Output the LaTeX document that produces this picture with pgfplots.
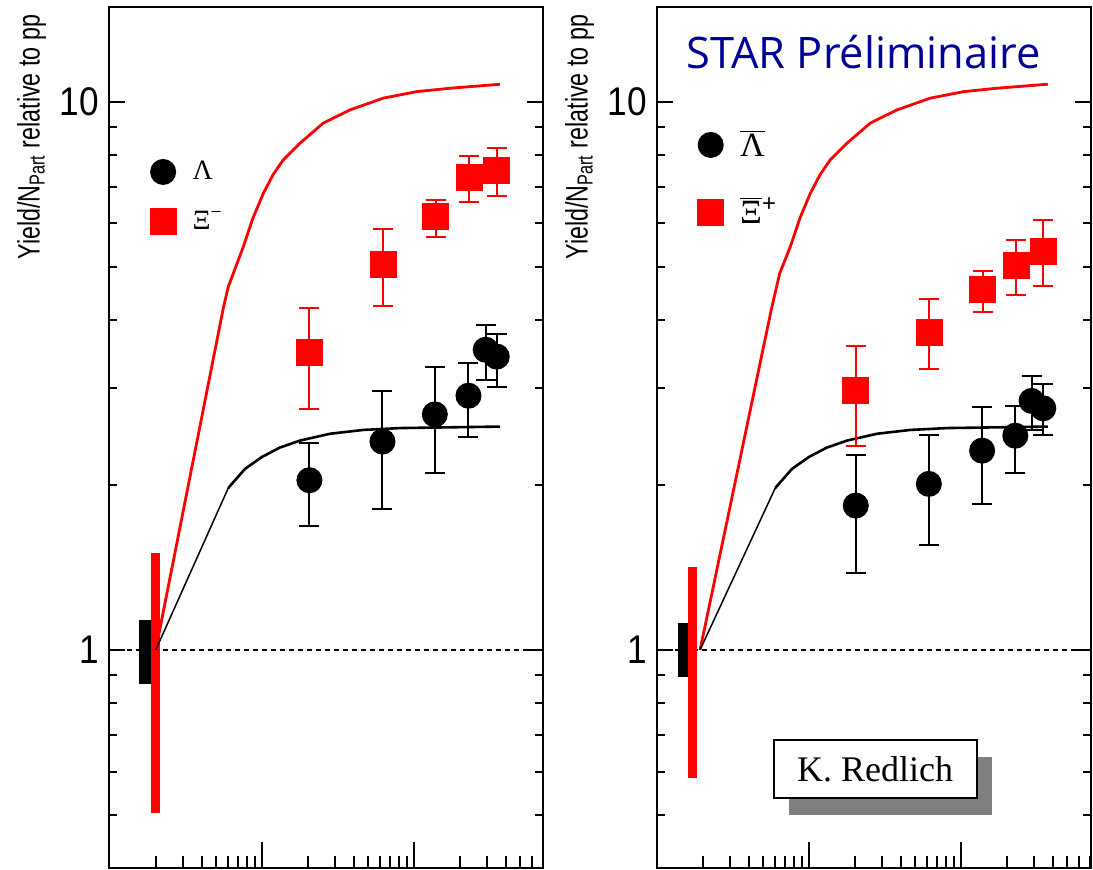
\documentclass[border=0pt]{standalone}
\usepackage{pgfplots}
\pgfplotsset{compat=1.18}
\usepackage{fontspec}
\setmainfont{Liberation Serif}
\newfontfamily\arial{Liberation Sans}
\newfontfamily\arialn[FakeStretch=0.88]{Liberation Sans}
\newfontfamily\arialnn[FakeStretch=0.75]{Liberation Sans}
\newfontfamily\comic{Open Sans}
\usetikzlibrary{shadows}
\definecolor{starblue}{RGB}{0,0,150}
\definecolor{shadowgray}{RGB}{128,128,128}

\pgfplotsset{
  mypanel/.style={
    scale only axis, width=217pt, height=430.5pt,
    ymin=0.4, ymax=14.9,
    xtick=\empty,
    ytick={1,10}, yticklabels={1,10},
    minor ytick={0.4,0.5,0.6,0.7,0.8,0.9,2,3,4,5,6,7,8,9},
    major tick length=8pt, minor tick length=4pt,
    tick style={line width=1pt, black},
    axis line style={line width=1pt},
    yticklabel style={font=\arialn\fontsize{20}{22}\selectfont, xshift=-1.5pt},
    ylabel={\arialnn\fontsize{15.5}{17}\selectfont Yield/N\textsubscript{Part} relative to pp},
    ylabel style={at={(axis description cs:-0.129,0.999)}, anchor=south east},
    clip=false,
    legend cell align=left,
  },
  mytickaxis/.style={
    scale only axis, width=217pt, height=430.5pt,
    ymin=0.4, ymax=14.9,
    ytick=\empty,
    xtick={10,100},
    minor xtick={2,3,4,5,6,7,8,9,20,30,40,50,60,70,80,90,200,300,400,500,600,700},
    xticklabels={},
    xtick pos=left,
    major tick length=13pt, minor tick length=6pt,
    tick style={line width=1pt, black},
    axis line style={line width=1pt},
  },
  lam/.style={only marks, mark=*, mark size=6pt, black, line width=1pt,
    error bars/y dir=both, error bars/y explicit,
    error bars/error mark=-,
    error bars/error mark options={rotate=90, mark size=5pt, line width=1pt},
    error bars/error bar style={line width=1pt}},
  xi/.style={only marks, mark=square*, mark size=6.25pt, red, line width=1pt,
    error bars/y dir=both, error bars/y explicit,
    error bars/error mark=-,
    error bars/error mark options={rotate=90, mark size=5pt, line width=1pt},
    error bars/error bar style={line width=1pt}},
}

\begin{document}
\begin{tikzpicture}
\useasboundingbox (0,0) rectangle (546.5pt,434.5pt);

% ---------------- left panel ----------------
\begin{loglogaxis}[mytickaxis, at={(54.5pt,0.5pt)}, anchor=south west, xmin=0.985, xmax=705]
\addplot[draw=none, forget plot] coordinates {(10,1)};
\end{loglogaxis}
\begin{loglogaxis}[mypanel, at={(54.5pt,0.5pt)}, anchor=south west, xmin=0.985, xmax=705,
  legend style={at={(axis description cs:0.095,0.826)}, anchor=north west,
    draw=none, fill=none, inner sep=0pt, row sep=10pt, column sep=6.5pt,
    font=\fontsize{14}{16}\selectfont}]
\addplot[black, line width=0.65pt, dash pattern=on 2.5pt off 2pt, forget plot]
  coordinates {(0.985,1) (705,1)};
\addplot[black, line width=5.7pt, forget plot] coordinates {(1.70,0.867) (1.70,1.134)};
\addplot[red, line width=4.65pt, forget plot] coordinates {(1.99,0.505) (1.99,1.50)};
\addplot[red, line width=1.4pt, line join=round, forget plot] coordinates {
  (2,1) (5.56,4.20) (6.0,4.60) (7.53,5.44) (8.72,6.14) (10.2,6.81) (11.8,7.36)
  (13.8,7.84) (17.8,8.41) (25.3,9.15) (37.9,9.67) (62.8,10.16) (104,10.44)
  (172,10.59) (286,10.71) (368,10.77)};
\addplot[black, line width=0.75pt, forget plot] coordinates {(2,1) (6.0,1.975)};
\addplot[black, line width=1.3pt, line join=round, forget plot] coordinates {
  (6.0,1.975) (7.73,2.14) (10,2.25) (13.1,2.34) (17.8,2.41) (28,2.48) (46.2,2.52)
  (80.9,2.54) (368,2.556)};
\addplot[lam] coordinates {
  (20.5,2.04) += (0,0.35) -= (0,0.36)
  (62,2.40) += (0,0.57) -= (0,0.59)
  (137,2.69) += (0,0.59) -= (0,0.59)
  (228,2.91) += (0,0.43) -= (0,0.46)
  (296,3.53) += (0,0.39) -= (0,0.42)
  (350,3.43) += (0,0.34) -= (0,0.41)};
\addlegendentry{Λ}
\addplot[xi] coordinates {
  (20.5,3.49) += (0,0.71) -= (0,0.74)
  (62.5,5.06) += (0,0.80) -= (0,0.82)
  (139,6.19) += (0,0.44) -= (0,0.51)
  (231,7.27) += (0,0.71) -= (0,0.69)
  (350,7.49) += (0,0.74) -= (0,0.75)};
\addlegendentry{Ξ\textsuperscript{−}}
\end{loglogaxis}

% ---------------- right panel ----------------
\begin{loglogaxis}[mytickaxis, at={(328.5pt,0.5pt)}, anchor=south west, xmin=1.0, xmax=716]
\addplot[draw=none, forget plot] coordinates {(10,1)};
\end{loglogaxis}
\begin{loglogaxis}[mypanel, at={(328.5pt,0.5pt)}, anchor=south west, xmin=1.0, xmax=716,
  legend style={at={(axis description cs:0.094,0.862)}, anchor=north west,
    draw=none, fill=none, inner sep=0pt, row sep=15pt, column sep=6.5pt,
    font=\fontsize{17}{19}\selectfont}]
\addplot[black, line width=0.65pt, dash pattern=on 2.5pt off 2pt, forget plot]
  coordinates {(1.0,1) (716,1)};
\addplot[black, line width=5pt, forget plot] coordinates {(1.48,0.893) (1.48,1.12)};
\addplot[red, line width=4.5pt, forget plot] coordinates {(1.71,0.584) (1.71,1.418)};
\addplot[red, line width=1.4pt, line join=round, forget plot] coordinates {
  (1.92,1) (5.67,4.20) (6.42,4.87) (7.53,5.44) (8.72,6.14) (10.2,6.81) (11.8,7.36)
  (13.8,7.84) (17.8,8.41) (25.3,9.15) (37.9,9.67) (62.8,10.16) (104,10.44)
  (172,10.59) (286,10.71) (372,10.77)};
\addplot[black, line width=0.75pt, forget plot] coordinates {(1.92,1) (6.0,1.975)};
\addplot[black, line width=1.3pt, line join=round, forget plot] coordinates {
  (6.0,1.975) (7.73,2.14) (10,2.25) (13.1,2.34) (17.8,2.41) (28,2.48) (46.2,2.52)
  (80.9,2.54) (372,2.556)};
\addplot[lam] coordinates {
  (20.3,1.834) += (0,0.432) -= (0,0.45)
  (61.4,2.009) += (0,0.459) -= (0,0.454)
  (137.6,2.31) += (0,0.463) -= (0,0.465)
  (227.5,2.46) += (0,0.33) -= (0,0.36)
  (291,2.847) += (0,0.313) -= (0,0.327)
  (347.5,2.76) += (0,0.30) -= (0,0.29)};
\addlegendentry{$\overline{\mbox{Λ}}$}
\addplot[xi] coordinates {
  (20.3,2.973) += (0,0.607) -= (0,0.616)
  (62.0,3.80) += (0,0.57) -= (0,0.54)
  (138.8,4.54) += (0,0.37) -= (0,0.40)
  (230,5.02) += (0,0.57) -= (0,0.58)
  (347.5,5.33) += (0,0.75) -= (0,0.71)};
\addlegendentry{$\overline{\mbox{Ξ}}$\textsuperscript{\arial +}}
\node[text=starblue, font=\comic\fontsize{21.7}{24}\selectfont]
  at (axis description cs:0.476,0.948) {STAR Préliminaire};
\node[draw=black, line width=1pt, fill=white, minimum width=101.5pt, minimum height=29pt,
  inner sep=0pt, font=\fontsize{18}{20}\selectfont,
  drop shadow={shadow xshift=7.5pt, shadow yshift=-8.5pt, fill=shadowgray, opacity=1}]
  at (axis description cs:0.5023,0.115) {K. Redlich};
\end{loglogaxis}
\end{tikzpicture}
\end{document}
